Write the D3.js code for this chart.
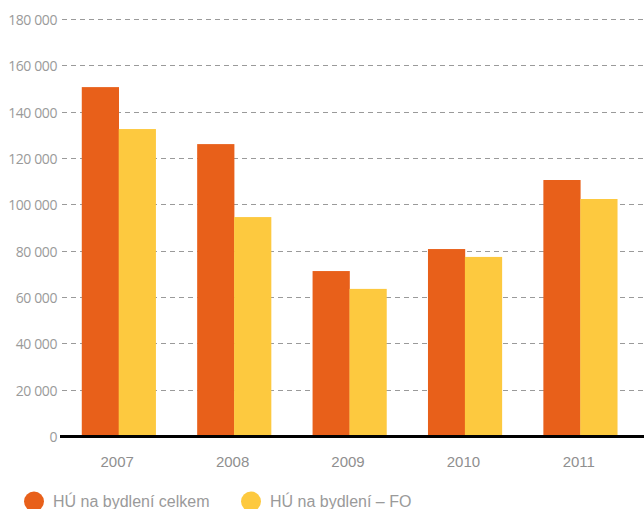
<!DOCTYPE html>
<html><head><meta charset="utf-8">
<script src="https://cdn.jsdelivr.net/npm/d3@7"></script>
<style>body{margin:0;background:#fff}</style>
</head><body>
<svg id="c" width="644" height="509"></svg>
<script>
const years = ["2007","2008","2009","2010","2011"];
const celkem = [150600, 126000, 71200, 80700, 110500];
const fo = [132500, 94500, 63500, 77300, 102300];
const seriesNames = ["HÚ na bydlení celkem", "HÚ na bydlení – FO"];
const colors = ["#E8601A", "#FDC93F"];
const yTicks = [0,20000,40000,60000,80000,100000,120000,140000,160000,180000];

const svg = d3.select("#c");
const y = d3.scaleLinear().domain([0,180000]).range([436,19]);
const x = d3.scaleBand().domain(years).range([61,638]).paddingInner(0.36).paddingOuter(0.18);
const xs = d3.scaleBand().domain([0,1]).range([0,x.bandwidth()]);
const fmt = v => d3.format(",")(v).replace(/,/g," ");

// grid
svg.append("g").selectAll("line").data(yTicks.filter(d=>d>0)).join("line")
  .attr("x1",62).attr("x2",644).attr("y1",d=>Math.round(y(d))+0.5).attr("y2",d=>Math.round(y(d))+0.5)
  .attr("stroke","#9a9a9a").attr("stroke-width",1).attr("stroke-dasharray","5,4");

// y labels
svg.append("g").selectAll("text").data(yTicks).join("text")
  .attr("x",57).attr("y",d=>y(d)+6).attr("text-anchor","end")
  .attr("font-family","'Open Sans', sans-serif").attr("font-size",14).attr("fill","#9a9a9a")
  .attr("letter-spacing","-0.4")
  .text(fmt);

// bars
const data = [celkem, fo];
data.forEach((arr,i)=>{
  svg.append("g").selectAll("rect").data(arr).join("rect")
    .attr("x",(d,j)=>x(years[j])+xs(i)).attr("width",xs.bandwidth()+0.3)
    .attr("y",d=>y(d)).attr("height",d=>y(0)-y(d)).attr("fill",colors[i]);
});

// baseline
svg.append("line").attr("x1",60).attr("x2",644).attr("y1",y(0)+0.5).attr("y2",y(0)+0.5)
  .attr("stroke","#000").attr("stroke-width",3);

// x labels
svg.append("g").selectAll("text").data(years).join("text")
  .attr("x",d=>x(d)+x.bandwidth()/2-1.5).attr("y",467).attr("text-anchor","middle")
  .attr("font-family","'Liberation Sans', Arial, sans-serif").attr("font-size",15).attr("fill","#8f8f8f")
  .text(d=>d);

// legend
const lx = [34, 251];
seriesNames.forEach((n,i)=>{
  svg.append("circle").attr("cx",lx[i]).attr("cy",501.5).attr("r",10).attr("fill",colors[i]);
  svg.append("text").attr("x",lx[i]+19).attr("y",506.5)
    .attr("font-family","'Liberation Sans', Arial, sans-serif").attr("font-size",16).attr("fill","#9a9a9a")
    .text(n);
});
</script>
</body></html>
